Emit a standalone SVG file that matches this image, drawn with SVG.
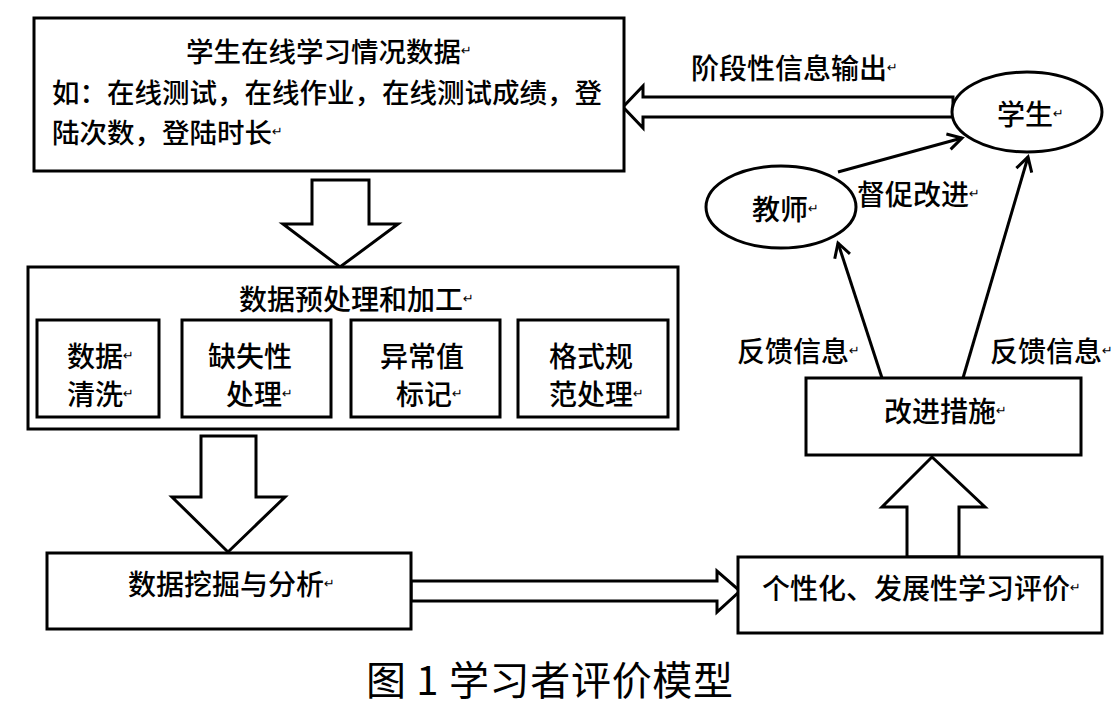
<svg xmlns="http://www.w3.org/2000/svg" width="1114" height="714" viewBox="0 0 1114 714">
<defs>
<style>
.box{fill:#fff;stroke:#000;stroke-width:3}
.blk{fill:#fff;stroke:#000;stroke-width:3;stroke-linejoin:miter}
.ln{fill:none;stroke:#000;stroke-width:3}
.t{font-family:"Noto Sans CJK SC","Noto Sans CJK TC",sans-serif;font-size:28px;font-weight:500;fill:#000;dominant-baseline:central}
.t2{font-size:27.5px}
.r{font-family:"DejaVu Sans",sans-serif;font-size:13px;font-weight:normal}
.cap{font-family:"Noto Sans CJK SC",sans-serif;font-size:40px;fill:#000;dominant-baseline:central}
</style>
<marker id="ah" markerWidth="20" markerHeight="20" refX="15" refY="10" orient="auto" markerUnits="userSpaceOnUse">
<path d="M1,2 L15,10 L1,18" fill="none" stroke="#000" stroke-width="3"/>
</marker>
</defs>
<rect width="1114" height="714" fill="#fff"/>

<g id="connectors">
<polygon class="blk" points="953,97 643,97 643,86 623,107 643,128 643,117 953,117"/>
<polygon class="blk" points="312,180 369,180 369,224 398,224 340,267 283,224 312,224"/>
<polygon class="blk" points="201,436 256,436 256,497 285,497 228,552 172,497 201,497"/>
<polygon class="blk" points="411,581 717,581 717,571 740,591 717,612 717,601 411,601"/>
<polygon class="blk" points="907,557 907,507 882,507 932,457 985,507 959,507 959,557"/>
<line class="ln" x1="838" y1="172" x2="962" y2="138" marker-end="url(#ah)"/>
<line class="ln" x1="882" y1="378" x2="838" y2="243" marker-end="url(#ah)"/>
<line class="ln" x1="963" y1="378" x2="1028" y2="157" marker-end="url(#ah)"/>
<text class="t" x="691" y="67">阶段性信息输出<tspan class="r">↵</tspan></text>
<text class="t" x="857" y="193">督促改进<tspan class="r">↵</tspan></text>
<text class="t" x="737" y="350">反馈信息<tspan class="r">↵</tspan></text>
<text class="t" x="990" y="350">反馈信息<tspan class="r">↵</tspan></text>
</g>

<g id="node-data">
<rect class="box" x="34" y="18" width="590" height="153"/>
<text class="t t2" x="186" y="50">学生在线学习情况数据<tspan class="r">↵</tspan></text>
<text class="t t2" x="52" y="91">如：在线测试，在线作业，在线测试成绩，登</text>
<text class="t t2" x="52" y="131">陆次数，登陆时长<tspan class="r">↵</tspan></text>
</g>

<g id="node-preprocess">
<rect class="box" x="28" y="267" width="650" height="162"/>
<text class="t" x="239" y="298">数据预处理和加工<tspan class="r">↵</tspan></text>
<g id="node-clean">
<rect class="box" x="37" y="320" width="122" height="97"/>
<text class="t" x="67" y="355">数据<tspan class="r">↵</tspan></text>
<text class="t" x="67" y="393">清洗<tspan class="r">↵</tspan></text>
</g>
<g id="node-missing">
<rect class="box" x="182" y="320" width="149" height="97"/>
<text class="t" x="208" y="355">缺失性</text>
<text class="t" x="226" y="393">处理<tspan class="r">↵</tspan></text>
</g>
<g id="node-outlier">
<rect class="box" x="351" y="320" width="149" height="97"/>
<text class="t" x="380" y="355">异常值</text>
<text class="t" x="396" y="393">标记<tspan class="r">↵</tspan></text>
</g>
<g id="node-format">
<rect class="box" x="518" y="320" width="150" height="97"/>
<text class="t" x="549" y="355">格式规</text>
<text class="t" x="549" y="393">范处理<tspan class="r">↵</tspan></text>
</g>
</g>

<g id="node-mining">
<rect class="box" x="47" y="553" width="364" height="76"/>
<text class="t" x="128" y="583">数据挖掘与分析<tspan class="r">↵</tspan></text>
</g>

<g id="node-eval">
<rect class="box" x="738" y="557" width="364" height="76"/>
<text class="t" x="762" y="587">个性化、发展性学习评价<tspan class="r">↵</tspan></text>
</g>

<g id="node-improve">
<rect class="box" x="806" y="378" width="275" height="77"/>
<text class="t" x="884" y="410">改进措施<tspan class="r">↵</tspan></text>
</g>

<g id="node-student">
<ellipse class="box" cx="1027" cy="112" rx="75" ry="40"/>
<text class="t" x="997" y="113">学生<tspan class="r">↵</tspan></text>
</g>

<g id="node-teacher">
<ellipse class="box" cx="781" cy="207" rx="75" ry="41"/>
<text class="t" x="752" y="208">教师<tspan class="r">↵</tspan></text>
</g>

<text class="cap" x="366" y="678" textLength="367" lengthAdjust="spacing">图 1 学习者评价模型</text>
</svg>
